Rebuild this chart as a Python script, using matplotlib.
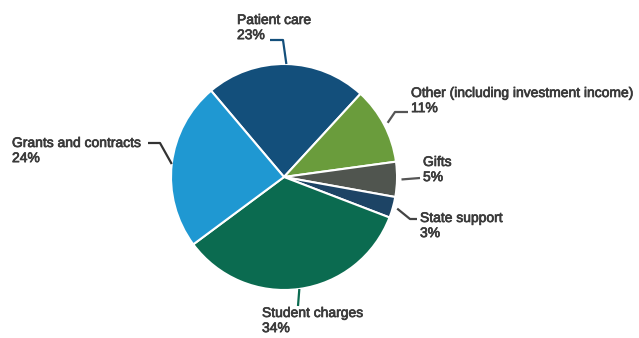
import numpy as np
import matplotlib
matplotlib.use("Agg")
import matplotlib.pyplot as plt
import matplotlib.patheffects as pe

# quote delle entrate per fonte (%)
fonti = ["Patient care", "Other (including investment income)", "Gifts",
         "State support", "Student charges", "Grants and contracts"]
quote = [23, 11, 5, 3, 34, 24]
colori = ["#134f7b", "#6a9c3c", "#50554f", "#1d4465", "#0b6b50", "#1f98d2"]
colori_linea = ["#134f7b", "#555555", "#555555", "#444444", "#0b6b50", "#333333"]
stacco = [0, 0.035, 0.04, 0.04, 0, 0]

# geometria in pixel (asse y verso l'alto)
W, H = 639, 338
CX, CY, R = 284, H - 177, 113

# posizione del blocco testo (sinistra, alto) e gomiti delle linee guida
testi = [(237, 13), (411, 86), (423, 155), (420, 211), (262, 306), (12, 136)]
gomiti = [[(283, 40), (270, 40)],
          [(395, 112), (408, 112)],
          [(420, 178)],
          [(410, 219), (417, 219)],
          [(298, 306)],
          [(160, 143), (148, 143)]]

plt.rcParams["font.family"] = ["Liberation Sans", "DejaVu Sans"]

fig = plt.figure(figsize=(W / 100, H / 100), dpi=100)
ax = fig.add_axes([0, 0, 1, 1])

wedges, _ = ax.pie(quote, colors=colori, startangle=130.2, counterclock=False,
                   explode=stacco, center=(CX, CY), radius=R,
                   wedgeprops=dict(edgecolor="white", linewidth=1.5))

spessore = [pe.withStroke(linewidth=0.5, foreground="#3a3a3a")]
for w, nome, q, (tx, ty), gom, cl, ex in zip(wedges, fonti, quote, testi,
                                              gomiti, colori_linea, stacco):
    ang = np.deg2rad((w.theta1 + w.theta2) / 2)
    r = R * (1 + ex)
    ax0 = (CX + r * np.cos(ang), CY + r * np.sin(ang))
    punti = [ax0] + [(x, H - y) for x, y in gom]
    xs, ys = zip(*punti)
    ax.plot(xs, ys, color=cl, lw=1.6, solid_capstyle="butt")
    ax.text(tx, H - ty, f"{nome}\n{q}%", ha="left", va="top", fontsize=10,
            color="#3a3a3a", linespacing=1.1, path_effects=spessore)

ax.set_xlim(0, W)
ax.set_ylim(0, H)
ax.set_aspect("equal")
ax.axis("off")

fig.savefig("out.png", dpi=100, facecolor="white")
